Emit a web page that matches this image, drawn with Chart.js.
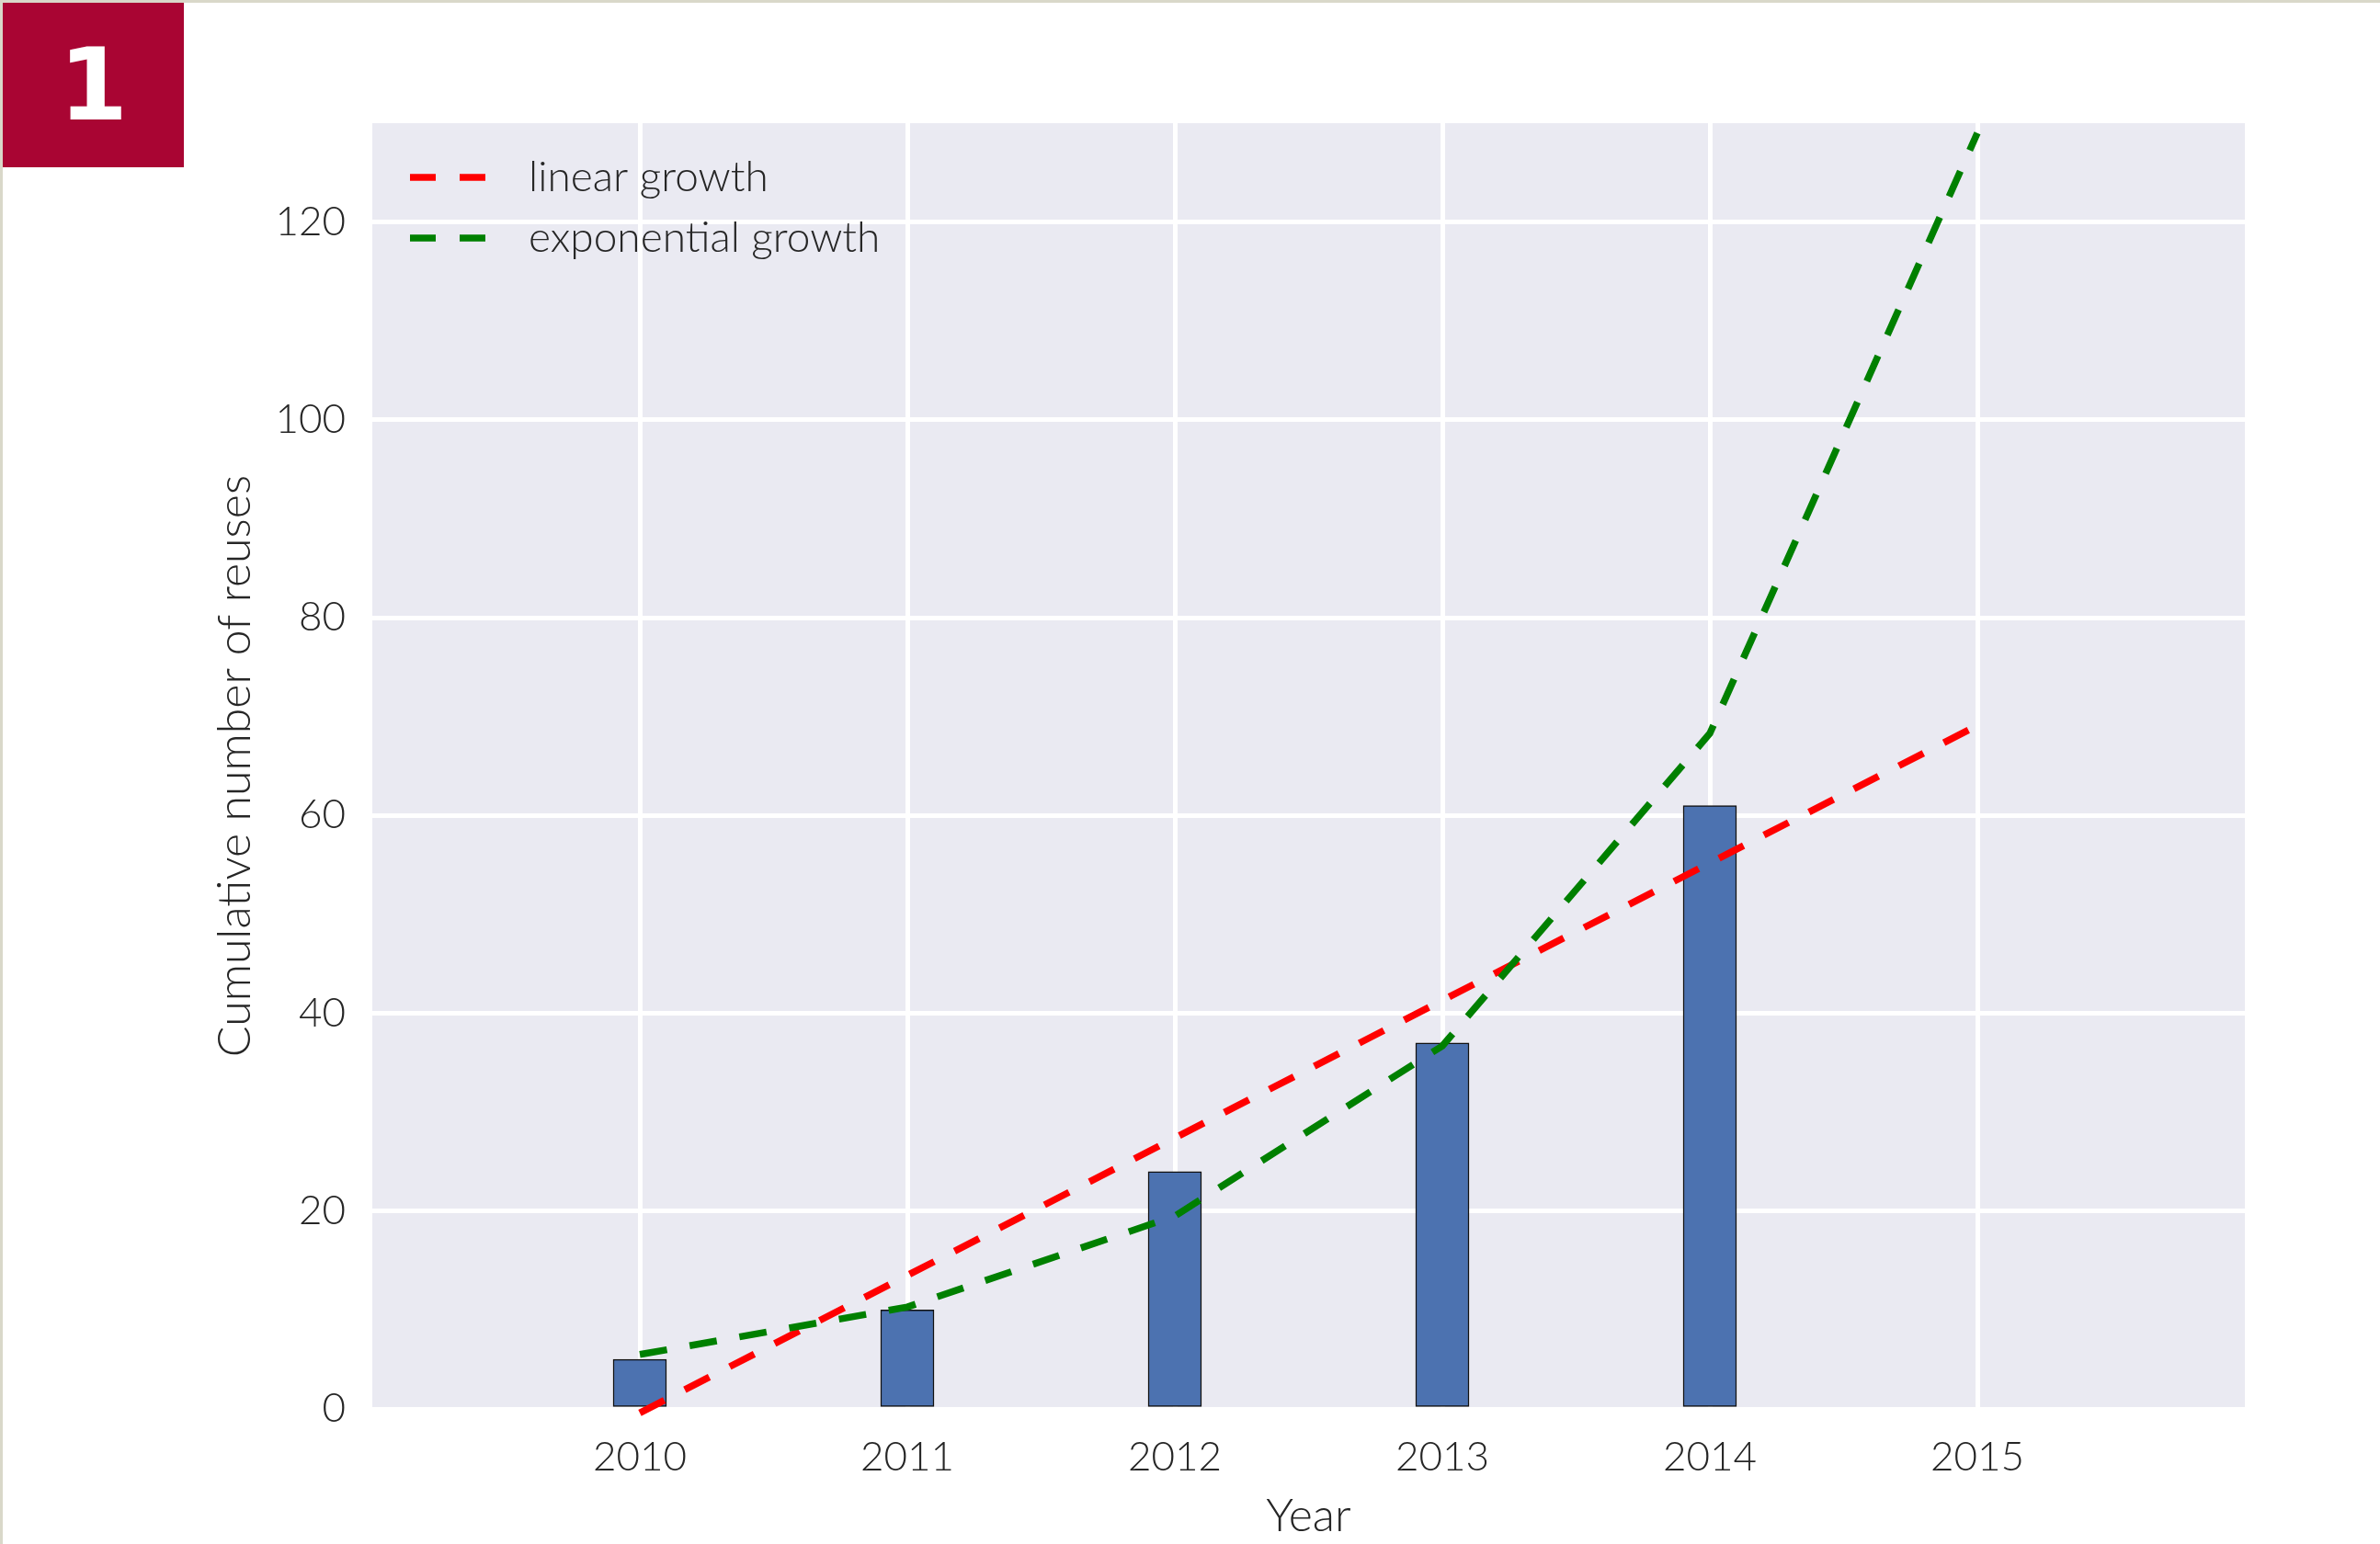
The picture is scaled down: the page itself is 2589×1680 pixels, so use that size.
<!DOCTYPE html>
<html>
<head>
<meta charset="utf-8">
<title>Cumulative number of reuses</title>
<script src="https://cdn.jsdelivr.net/npm/chart.js@4.4.1/dist/chart.umd.min.js"></script>
<style>
    html, body { margin: 0; padding: 0; background: #fff; }
    #wrap { position: relative; width: 2589px; height: 1680px; overflow: hidden; }
    #frameTop { position: absolute; left: 0; top: 0; width: 2589px; height: 3px; background: #d9d8c9; }
    #frameLeft { position: absolute; left: 0; top: 0; width: 3px; height: 1680px; background: #d9d8c9; }
    #badge {
        position: absolute; left: 3px; top: 3px; width: 197px; height: 179px;
        background: #a90533; color: #fff;
        font: bold 108px 'DejaVu Sans', sans-serif;
        display: flex; align-items: center; justify-content: center;
    }
    #chart { position: absolute; left: 0; top: 0; }
</style>
</head>
<body>
<div id="wrap">
    <canvas id="chart" width="2589" height="1680"></canvas>
    <div id="frameTop"></div>
    <div id="frameLeft"></div>
    <div id="badge">1</div>
</div>
<script>
// data
const barYears = [2010, 2011, 2012, 2013, 2014];
const reuses = [5, 10, 24, 37, 61];
const fitYears = [2010, 2011, 2012, 2013, 2014, 2015];
const linearGrowth = [-0.4, 13.5, 27.4, 41.3, 55.2, 69.1];
const exponentialGrowth = [5.5, 10.3, 19.5, 36.7, 68.3, 129];
const xTicks = [2010, 2011, 2012, 2013, 2014, 2015];
const yTicks = [0, 20, 40, 60, 80, 100, 120];

const TEXT = '#262626';
const FONT = 'Lato';

function toPoints(xs, ys) {
    return xs.map((x, i) => ({ x: x, y: ys[i] }));
}

// legend drawn inside the plot area, top left
const insideLegend = {
    id: 'insideLegend',
    afterDraw(chart) {
        const ctx = chart.ctx;
        const area = chart.chartArea;
        const rows = [chart.data.datasets[1], chart.data.datasets[2]];
        ctx.save();
        rows.forEach((ds, i) => {
            const y = area.top + 59 + i * 66;
            ctx.strokeStyle = ds.borderColor;
            ctx.lineWidth = 7.5;
            ctx.lineCap = 'butt';
            ctx.setLineDash([28, 26]);
            ctx.beginPath();
            ctx.moveTo(area.left + 41, y);
            ctx.lineTo(area.left + 123, y);
            ctx.stroke();
            ctx.setLineDash([]);
            ctx.fillStyle = TEXT;
            ctx.font = '300 46px ' + FONT;
            ctx.textBaseline = 'middle';
            ctx.textAlign = 'left';
            ctx.fillText(ds.label, area.left + 170, y);
        });
        ctx.restore();
    }
};

function draw() {
    Chart.defaults.font.family = FONT;
    Chart.defaults.font.weight = '300';
    Chart.defaults.color = TEXT;

    new Chart(document.getElementById('chart'), {
        data: {
            datasets: [
                {
                    type: 'bar',
                    label: 'reuses',
                    data: toPoints(barYears, reuses),
                    backgroundColor: '#4c72b0',
                    borderColor: '#111111',
                    borderWidth: 1.5,
                    borderSkipped: false,
                    barThickness: 58,
                    order: 2
                },
                {
                    type: 'line',
                    label: 'linear growth',
                    data: toPoints(fitYears, linearGrowth),
                    borderColor: '#ff0000',
                    borderWidth: 7.5,
                    borderDash: [30, 25],
                    borderCapStyle: 'butt',
                    pointRadius: 0,
                    tension: 0,
                    clip: false,
                    order: 1
                },
                {
                    type: 'line',
                    label: 'exponential growth',
                    data: toPoints(fitYears, exponentialGrowth),
                    borderColor: '#008000',
                    borderWidth: 7.5,
                    borderDash: [30, 25],
                    borderCapStyle: 'butt',
                    pointRadius: 0,
                    tension: 0,
                    clip: false,
                    order: 0
                }
            ]
        },
        options: {
            responsive: false,
            animation: false,
            layout: { padding: { top: 134, right: 147, bottom: 0, left: 0 } },
            plugins: {
                legend: { display: false },
                tooltip: { enabled: false }
            },
            scales: {
                x: {
                    type: 'linear',
                    position: 'bottom',
                    min: 2009,
                    max: 2016,
                    offset: false,
                    afterBuildTicks: s => { s.ticks = xTicks.map(v => ({ value: v })); },
                    afterFit: s => { s.height = 147; },
                    grid: { color: '#ffffff', lineWidth: 5, drawTicks: false, offset: false },
                    border: { display: false },
                    ticks: {
                        padding: 26,
                        font: { size: 44, weight: '300' },
                        color: TEXT,
                        callback: v => String(v)
                    },
                    title: {
                        display: true,
                        text: 'Year',
                        color: TEXT,
                        font: { size: 50, weight: '300' },
                        padding: { top: 0, bottom: 0 }
                    }
                },
                y: {
                    type: 'linear',
                    min: 0,
                    max: 130,
                    afterBuildTicks: s => { s.ticks = yTicks.map(v => ({ value: v })); },
                    afterFit: s => { s.width = 405; },
                    grid: { color: '#ffffff', lineWidth: 5, drawTicks: false },
                    border: { display: false },
                    ticks: {
                        padding: 29,
                        font: { size: 44, weight: '300' },
                        color: TEXT,
                        callback: v => String(v)
                    },
                    title: {
                        display: true,
                        text: 'Cumulative number of reuses',
                        color: TEXT,
                        font: { size: 50, weight: '300' },
                        padding: { top: 226, bottom: 0 }
                    }
                }
            }
        },
        plugins: [
            {
                id: 'plotBackground',
                beforeDraw(chart) {
                    const a = chart.chartArea;
                    chart.ctx.save();
                    chart.ctx.fillStyle = '#eaeaf2';
                    chart.ctx.fillRect(a.left, a.top, a.right - a.left, a.bottom - a.top);
                    chart.ctx.restore();
                }
            },
            insideLegend
        ]
    });
}

if (document.fonts && document.fonts.load) {
    document.fonts.load('300 44px ' + FONT).then(draw, draw);
} else {
    draw();
}
</script>
</body>
</html>
